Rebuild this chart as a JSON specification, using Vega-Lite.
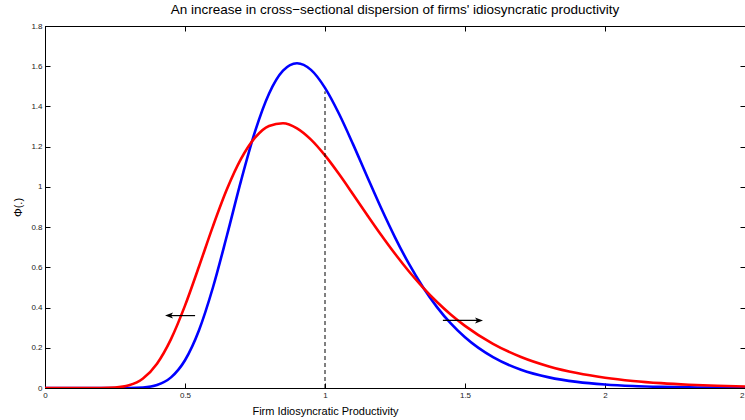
{
  "$schema": "https://vega.github.io/schema/vega-lite/v6.json",
  "autosize": {"type": "none"},
  "padding": {"left": 45, "top": 26, "right": 0, "bottom": 32},
  "width": 700,
  "height": 362,
  "background": "white",
  "title": {"text": "An increase in cross−sectional dispersion of firms' idiosyncratic productivity", "fontSize": 13.5, "font": "Liberation Sans", "fontWeight": "normal", "offset": 6, "color": "black"},
  "datasets": {
    "curves": [
      {"x": 0, "blue": 0, "red": 0},
      {"x": 0.1, "blue": 0, "red": 0},
      {"x": 0.2, "blue": 0, "red": 0.0002},
      {"x": 0.25, "blue": 0, "red": 0.0023},
      {"x": 0.3, "blue": 0.0003, "red": 0.0133},
      {"x": 0.35, "blue": 0.0028, "red": 0.0475},
      {"x": 0.4, "blue": 0.0149, "red": 0.121},
      {"x": 0.45, "blue": 0.0528, "red": 0.2431},
      {"x": 0.5, "blue": 0.138, "red": 0.4095},
      {"x": 0.55, "blue": 0.2873, "red": 0.6044},
      {"x": 0.6, "blue": 0.501, "red": 0.805},
      {"x": 0.65, "blue": 0.7596, "red": 0.989},
      {"x": 0.7, "blue": 1.0299, "red": 1.139},
      {"x": 0.75, "blue": 1.2745, "red": 1.2448},
      {"x": 0.8, "blue": 1.4632, "red": 1.3032},
      {"x": 0.85, "blue": 1.5779, "red": 1.3165},
      {"x": 0.9, "blue": 1.6149, "red": 1.291},
      {"x": 0.95, "blue": 1.5818, "red": 1.2349},
      {"x": 1.0, "blue": 1.4924, "red": 1.1565},
      {"x": 1.05, "blue": 1.3637, "red": 1.0639},
      {"x": 1.1, "blue": 1.2126, "red": 0.9638},
      {"x": 1.15, "blue": 1.0529, "red": 0.8618},
      {"x": 1.2, "blue": 0.8961, "red": 0.762},
      {"x": 1.25, "blue": 0.7493, "red": 0.6673},
      {"x": 1.3, "blue": 0.6167, "red": 0.5793},
      {"x": 1.35, "blue": 0.5011, "red": 0.4995},
      {"x": 1.4, "blue": 0.4023, "red": 0.4278},
      {"x": 1.45, "blue": 0.3198, "red": 0.3645},
      {"x": 1.5, "blue": 0.252, "red": 0.3091},
      {"x": 1.6, "blue": 0.153, "red": 0.2198},
      {"x": 1.7, "blue": 0.0907, "red": 0.1544},
      {"x": 1.8, "blue": 0.0528, "red": 0.1075},
      {"x": 1.9, "blue": 0.0303, "red": 0.0743},
      {"x": 2.0, "blue": 0.0173, "red": 0.0512},
      {"x": 2.1, "blue": 0.0097, "red": 0.0352},
      {"x": 2.2, "blue": 0.0055, "red": 0.0241},
      {"x": 2.3, "blue": 0.0031, "red": 0.0165},
      {"x": 2.4, "blue": 0.0017, "red": 0.0113},
      {"x": 2.5, "blue": 0.001, "red": 0.0077}
    ],
    "vline": [{"x": 1, "y": 0, "y2": 1.475}],
    "arrows": [
      {"x": 0.536, "x2": 0.443, "y": 0.36, "dir": "left"},
      {"x": 1.421, "x2": 1.55, "y": 0.336, "dir": "right"}
    ]
  },
  "layer": [
    {
      "data": {"name": "curves"},
      "mark": {"type": "line", "color": "#0000ff", "strokeWidth": 2.6, "interpolate": "monotone", "clip": true},
      "encoding": {
        "x": {"field": "x", "type": "quantitative", "scale": {"domain": [0, 2.5], "nice": false, "zero": false},
          "axis": {"orient": "bottom", "values": [0, 0.5, 1, 1.5, 2, 2.5], "format": "~g", "labelFlush": false, "title": "Firm Idiosyncratic Productivity", "titleX": 280, "titleY": 26, "titleBaseline": "alphabetic", "titleAlign": "center", "titleAnchor": null}},
        "y": {"field": "blue", "type": "quantitative", "scale": {"domain": [0, 1.8], "nice": false, "zero": false},
          "axis": {"orient": "left", "values": [0, 0.2, 0.4, 0.6, 0.8, 1, 1.2, 1.4, 1.6, 1.8], "format": "~g", "labelFlush": false, "title": "Φ(.)", "titlePadding": 7}}
      }
    },
    {
      "data": {"name": "curves"},
      "mark": {"type": "line", "color": "#ff0000", "strokeWidth": 2.6, "interpolate": "monotone", "clip": true},
      "encoding": {
        "x": {"field": "x", "type": "quantitative", "axis": null},
        "y": {"field": "red", "type": "quantitative", "axis": null}
      }
    },
    {
      "data": {"name": "arrows"},
      "mark": {"type": "rule", "color": "black", "strokeWidth": 1.2},
      "encoding": {
        "x": {"field": "x", "type": "quantitative", "axis": null},
        "x2": {"field": "x2"},
        "y": {"field": "y", "type": "quantitative", "axis": null}
      }
    },
    {
      "data": {"name": "arrows"},
      "mark": {"type": "point", "filled": true, "color": "black", "opacity": 1, "size": 64, "strokeWidth": 0},
      "encoding": {
        "x": {"field": "x2", "type": "quantitative", "axis": null},
        "y": {"field": "y", "type": "quantitative", "axis": null},
        "shape": {"field": "dir", "type": "nominal", "legend": null,
          "scale": {"domain": ["left", "right"], "range": ["M-1,0L1,-0.75L0.5,0L1,0.75Z", "M1,0L-1,-0.75L-0.5,0L-1,0.75Z"]}}
      }
    },
    {
      "data": {"name": "vline"},
      "mark": {"type": "rule", "color": "black", "strokeWidth": 1, "strokeDash": [4, 3]},
      "encoding": {
        "x": {"field": "x", "type": "quantitative",
          "axis": {"orient": "top", "values": [0, 0.5, 1, 1.5, 2, 2.5], "labels": false, "title": null}},
        "y": {"field": "y", "type": "quantitative",
          "axis": {"orient": "right", "values": [0, 0.2, 0.4, 0.6, 0.8, 1, 1.2, 1.4, 1.6, 1.8], "labels": false, "title": null}},
        "y2": {"field": "y2"}
      }
    }
  ],
  "config": {
    "view": {"stroke": "black", "strokeWidth": 1},
    "axis": {
      "domainColor": "black", "domainWidth": 1, "tickColor": "black", "tickSize": -5, "tickWidth": 1,
      "labelPadding": 8, "labelFont": "Liberation Sans", "labelFontSize": 8, "labelColor": "#222",
      "titleFont": "Liberation Sans", "titleFontSize": 11, "titleFontWeight": "normal", "titleColor": "black",
      "grid": false
    }
  }
}
